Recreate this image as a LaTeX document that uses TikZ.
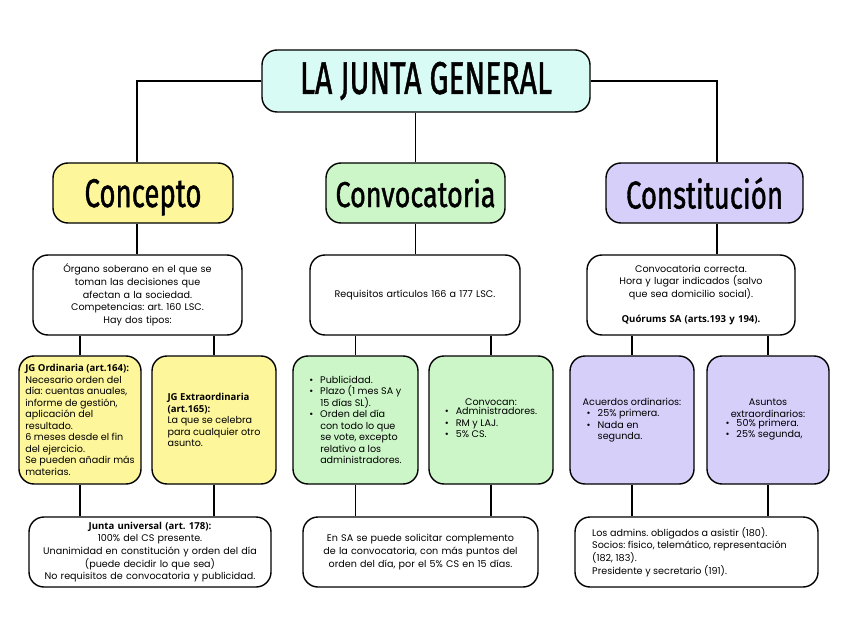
\documentclass[tikz,border=0pt]{standalone}
\usepackage{fontspec}
\usepackage{graphicx}
\setmainfont{Poppins}
\newfontfamily\titlefont[FakeBold=1.3]{Fira Sans}
\newfontfamily\bfo{Open Sans}
\definecolor{tcyan}{HTML}{D9FBF5}
\definecolor{tyel}{HTML}{FDF69B}
\definecolor{tgrn}{HTML}{CCF6C8}
\definecolor{tlav}{HTML}{D5CFF9}
\newcommand\bu{\makebox[11pt][l]{•}}
\newcommand\hng{\hspace*{11pt}}
\newcommand\B[1]{{\bfo\bfseries #1}}
\frenchspacing
\begin{document}
\begin{tikzpicture}[x=1pt,y=-1pt,
  box/.style={draw, line width=1.4pt, rounded corners=15pt, inner sep=0pt,
    font=\fontsize{9.6}{12.7}\selectfont},
  tight/.style={font=\fontsize{9.6}{11.5}\selectfont},
  conn/.style={line width=1.4pt},
  head/.style={box, minimum height=60pt, text depth=0pt}]
\useasboundingbox (0,0) rectangle (848,636);
% title
\node[box, fill=tcyan, minimum width=328pt, minimum height=62pt] (t) at (426,81)
  {\resizebox{252pt}{32pt}{\titlefont LA JUNTA GENERAL}};
% headings
\node[head, fill=tyel, minimum width=180pt] (c1) at (143,193)
  {\resizebox{117pt}{28pt}{\titlefont Concepto}};
\node[head, fill=tgrn, minimum width=179pt] (c2) at (415.5,193)
  {\resizebox{160pt}{28pt}{\titlefont Convocatoria}};
\node[head, fill=tlav, minimum width=197pt] (c3) at (704.5,193)
  {\resizebox{157pt}{31pt}{\titlefont Constitución}};
% descriptions
\node[box, fill=white, minimum width=209pt, minimum height=80pt, text width=205pt, align=center] (d1) at (137.5,295)
  {Órgano soberano en el que se\\ toman las decisiones que\\ afectan a la sociedad.\\ Competencias: art. 160 LSC.\\ Hay dos tipos:};
\node[box, fill=white, minimum width=210pt, minimum height=80pt, text width=205pt, align=center] (d2) at (415,295)
  {Requisitos artículos 166 a 177 LSC.};
\node[box, fill=white, minimum width=208pt, minimum height=80pt, text width=205pt, align=center] (d3) at (691,295)
  {Convocatoria correcta.\\ Hora y lugar indicados (salvo\\ que sea domicilio social).\\[12.7pt] \B{Quórums SA (arts.193 y 194).}};
% level 3
\node[box, tight, fill=tyel, minimum width=122pt, minimum height=128pt, align=left] (y1) at (80,420)
  {\B{JG Ordinaria (art.164):}\\ Necesario orden del\\ día: cuentas anuales,\\ informe de gestión,\\ aplicación del\\ resultado.\\ 6 meses desde el fin\\ del ejercicio.\\ Se pueden añadir más\\ materias.};
\node[box, tight, fill=tyel, minimum width=124pt, minimum height=128pt, align=left] (y2) at (214,420)
  {\B{JG Extraordinaria}\\ \B{(art.165):}\\ La que se celebra\\ para cualquier otro\\ asunto.};
\node[box, tight, fill=tgrn, minimum width=125pt, minimum height=128pt, align=left] (g1) at (355.5,420)
  {\bu Publicidad.\\ \bu Plazo (1 mes SA y\\ \hng 15 días SL).\\ \bu Orden del día\\ \hng con todo lo que\\ \hng se vote, excepto\\ \hng relativo a los\\ \hng administradores.};
\node[box, tight, fill=tgrn, minimum width=124pt, minimum height=128pt, align=center] (g2) at (491,420)
  {Convocan:\\ \begin{tabular}{@{}l@{}}\bu Administradores.\\ \bu RM y LAJ.\\ \bu 5\% CS.\end{tabular}};
\node[box, tight, fill=tlav, minimum width=124pt, minimum height=128pt, align=left] (l1) at (632,420)
  {Acuerdos ordinarios:\\ \hspace*{4pt}\bu 25\% primera.\\ \hspace*{4pt}\bu Nada en\\ \hspace*{4pt}\hng segunda.};
\node[box, tight, fill=tlav, minimum width=122pt, minimum height=128pt, align=center] (l2) at (768,420)
  {Asuntos\\ extraordinarios:\\ \begin{tabular}{@{}l@{}}\bu 50\% primera.\\ \bu 25\% segunda,\end{tabular}\hspace*{8pt}};
% level 4
\node[box, fill=white, minimum width=242pt, minimum height=70pt, text width=240pt, align=center] (b1) at (150,552)
  {\B{Junta universal (art. 178):}\\ 100\% del CS presente.\\ Unanimidad en constitución y orden del día\\ (puede decidir lo que sea)\\ No requisitos de convocatoria y publicidad.};
\node[box, fill=white, minimum width=235pt, minimum height=70pt, text width=230pt, align=center] (b2) at (420.5,552)
  {En SA se puede solicitar complemento\\ de la convocatoria, con más puntos del\\ orden del día, por el 5\% CS en 15 días.};
\node[box, fill=white, minimum width=243pt, minimum height=70pt, align=left] (b3) at (696.5,552)
  {Los admins. obligados a asistir (180).\\ Socios: físico, telemático, representación\rule{14pt}{0pt}\\ (182, 183).\\ Presidente y secretario (191).};
% connectors
\draw[conn] (t.west) -| ([xshift=-6pt]c1.north);
\draw[conn] (t.east) -| ([xshift=12.5pt]c3.north);
\draw[conn] (c2.north |- t.south) -- (c2.north);
\draw[conn] ([xshift=-6pt]c1.south) -- ([xshift=-6pt]c1.south |- d1.north);
\draw[conn] (c2.south) -- (c2.south |- d2.north);
\draw[conn] ([xshift=12.5pt]c3.south) -- ([xshift=12.5pt]c3.south |- d3.north);
\foreach \a/\d/\b in {y1/d1/b1, y2/d1/b1, g1/d2/b2, g2/d2/b2, l1/d3/b3, l2/d3/b3}{
  \draw[conn] (\a.north |- \d.south) -- (\a.north);
  \draw[conn] (\a.south) -- (\a.south |- \b.north);
}
\end{tikzpicture}
\end{document}
